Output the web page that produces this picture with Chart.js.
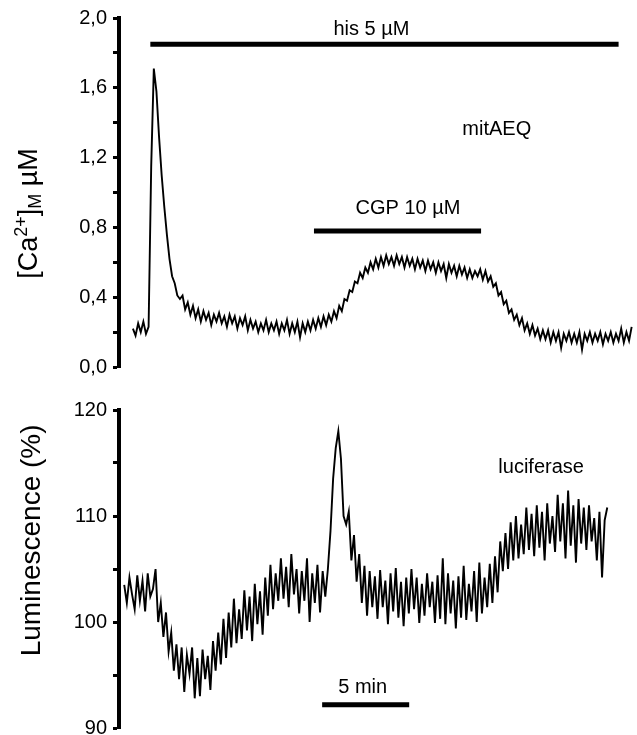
<!DOCTYPE html>
<html><head><meta charset="utf-8">
<script src="https://cdn.jsdelivr.net/npm/chart.js@4.4.1/dist/chart.umd.min.js"></script>
<style>
html,body{margin:0;padding:0;background:#fff;overflow:hidden;}
#wrap{position:relative;width:637px;height:735px;overflow:hidden;background:#fff;}
canvas{position:absolute;left:0;}
#c1{top:0;}
#c2{top:385px;}
</style></head><body>
<div id="wrap"><canvas id="c1" width="637" height="385"></canvas><canvas id="c2" width="637" height="365"></canvas></div>
<script>
const FONT = "'Liberation Sans', Arial, Helvetica, sans-serif";

// ---- time axis (minutes) ----
const xMax = 29.7;

// ---- top panel: mitochondrial Ca2+ (µM), sampled every caStep min from caStart ----
const caStart = 0.8, caStep = 0.15;
const caValues = [
0.22,0.18,0.25,0.20,0.26,0.19,0.23,1.15,1.71,1.58,
1.32,1.10,0.92,0.76,0.62,0.52,0.48,0.41,0.39,0.41,
0.33,0.37,0.30,0.35,0.28,0.33,0.26,0.32,0.27,0.31,
0.24,0.30,0.26,0.31,0.25,0.29,0.23,0.30,0.25,0.29,
0.22,0.28,0.24,0.29,0.21,0.27,0.22,0.26,0.20,0.25,
0.21,0.27,0.20,0.25,0.21,0.26,0.19,0.25,0.21,0.27,
0.19,0.25,0.20,0.26,0.17,0.25,0.20,0.26,0.21,0.27,
0.22,0.28,0.23,0.29,0.24,0.30,0.26,0.32,0.28,0.35,
0.32,0.39,0.38,0.44,0.43,0.49,0.48,0.54,0.51,0.57,
0.54,0.60,0.56,0.62,0.57,0.63,0.58,0.64,0.59,0.63,
0.58,0.64,0.59,0.63,0.57,0.63,0.58,0.62,0.56,0.62,
0.57,0.61,0.55,0.61,0.56,0.60,0.54,0.60,0.55,0.59,
0.51,0.59,0.54,0.58,0.52,0.58,0.53,0.57,0.51,0.56,
0.51,0.55,
0.52,0.56,0.50,0.55,0.49,0.52,0.46,0.48,0.41,0.43,
0.36,0.38,0.31,0.33,0.27,0.30,0.24,0.28,0.21,0.25,
0.19,0.24,0.18,0.22,0.16,0.21,0.16,0.21,0.14,0.20,
0.15,0.20,0.11,0.19,0.15,0.20,0.14,0.19,0.14,0.20,
0.10,0.19,0.15,0.20,0.14,0.19,0.15,0.20,0.13,0.19,
0.15,0.20,0.14,0.19,0.15,0.22,0.14,0.20,0.15,0.23
];
const caTicks = [0, 0.4, 0.8, 1.2, 1.6, 2.0];

// ---- bottom panel: luciferase luminescence (%) ----
const lucStart = 0.3, lucStep = 0.15;
const lucValues = [
103.5,101.8,104.2,102.6,101.2,104.4,102.0,103.9,101.0,104.6,102.4,103.1,105.0,
100.0,101.8,98.6,100.9,97.2,99.0,95.4,97.9,94.6,97.6,93.4,96.9,95.1,97.6,92.8,96.6,93.0,
97.4,94.6,96.8,93.6,98.2,95.4,99.0,96.0,100.3,96.6,100.9,97.6,102.2,98.0,101.2,98.4,103.0,99.2,102.4,98.2,
103.6,99.8,102.9,98.8,104.2,100.6,105.4,101.2,104.6,102.0,106.0,102.2,105.2,101.4,106.4,102.6,105.0,100.8,104.8,102.0,106.0,100.0,104.6,101.8,105.4,100.9,104.8,102.4,105.0,
108.6,113.5,116.4,118.0,115.4,110.0,109.2,110.4,105.8,108.2,
103.8,106.4,101.8,105.3,100.6,104.8,101.4,104.3,100.3,104.9,
101.4,103.9,99.8,104.6,101.0,105.1,100.4,103.8,99.6,104.2,
100.8,105.0,101.2,104.2,99.9,103.6,100.6,104.6,101.4,103.8,
99.9,104.4,100.3,106.0,99.8,104.6,100.8,103.9,99.4,104.3,
100.4,105.3,100.2,103.6,101.0,104.8,100.0,105.6,100.8,104.2,
101.4,105.5,101.8,106.2,102.8,
107.6,104.8,108.4,105.0,109.4,105.8,110.0,106.0,109.2,106.4,
110.8,106.8,110.2,106.2,111.0,107.0,110.4,105.8,111.2,107.4,
110.0,106.6,112.0,107.6,111.2,106.0,112.4,107.2,111.0,105.6,
111.6,107.4,110.8,106.8,111.0,107.6,109.8,105.8,110.4,104.2,
109.6,110.8
];
const lucTicks = [90, 100, 110, 120];

// ---- treatment / scale bars (x in min, y in axis units) ----
const hisBarX = [1.8, 28.7], hisBarY = 1.85;
const cgpBarX = [11.2, 20.8], cgpBarY = 0.78;
const scaleBarX = [11.67, 16.67], scaleBarY = 92.2;

function series(start, step, vals){ return vals.map((v,i)=>({x: start + i*step, y: v})); }
function bar(xs, y){ return [{x: xs[0], y: y}, {x: xs[1], y: y}]; }

const textPlugin = {
  id: 'texts',
  afterDatasetsDraw(chart, args, opts){
    const ctx = chart.ctx, xs = chart.scales.x, ys = chart.scales.y;
    ctx.save();
    ctx.fillStyle = '#000';
    ctx.textAlign = 'center';
    ctx.textBaseline = 'alphabetic';
    (opts.items || []).forEach(it => {
      ctx.font = it.size + 'px ' + FONT;
      ctx.fillText(it.text, xs.getPixelForValue(it.x), ys.getPixelForValue(it.y));
    });
    if (opts.title) {
      const parts = opts.title;
      const cx = opts.titleX, cy = ys.getPixelForValue(opts.titleY);
      let w = 0;
      parts.forEach(p => { ctx.font = p.size + 'px ' + FONT; p.w = ctx.measureText(p.t).width; w += p.w; });
      ctx.translate(cx, cy);
      ctx.rotate(-Math.PI / 2);
      ctx.textAlign = 'left';
      ctx.textBaseline = 'middle';
      let x = -w / 2;
      parts.forEach(p => {
        ctx.font = p.size + 'px ' + FONT;
        ctx.fillText(p.t, x, p.dy || 0);
        x += p.w;
      });
    }
    ctx.restore();
  }
};

function yAxis(min, max, step, labels, fmt){
  return {
    min: min, max: max,
    afterFit: s => { s.width = 119; },
    ticks: {
      stepSize: step,
      color: '#000',
      padding: 6,
      font: { family: FONT, size: 20 },
      callback: v => labels.some(l => Math.abs(l - v) < 1e-6) ? fmt(v) : ''
    },
    grid: { drawOnChartArea: false, drawTicks: true, tickLength: 6, tickWidth: 3, tickColor: '#000' },
    border: { display: true, color: '#000', width: 4 }
  };
}
const xAxis = { type: 'linear', min: 0, max: xMax, display: false };
const lineStyle = { borderColor: '#000', borderWidth: 1.9, pointRadius: 0, tension: 0, fill: false };
const barStyle = { borderColor: '#000', borderWidth: 5, pointRadius: 0, borderCapStyle: 'butt', fill: false };

new Chart(document.getElementById('c1'), {
  type: 'line',
  data: { datasets: [
    Object.assign({ label: 'mitAEQ', data: series(caStart, caStep, caValues) }, lineStyle),
    Object.assign({ label: 'his 5 µM', data: bar(hisBarX, hisBarY) }, barStyle),
    Object.assign({ label: 'CGP 10 µM', data: bar(cgpBarX, cgpBarY) }, barStyle)
  ]},
  options: {
    responsive: false, animation: false, devicePixelRatio: 1,
    layout: { padding: { top: 15, bottom: 18, left: 0, right: 1 } },
    scales: { x: xAxis, y: yAxis(0, 2, 0.2, caTicks, v => v.toFixed(1).replace('.', ',')) },
    plugins: {
      legend: { display: false }, tooltip: { enabled: false },
      texts: {
        items: [
          { text: 'his 5 µM', x: 14.5, y: 1.905, size: 20 },
          { text: 'mitAEQ', x: 21.7, y: 1.33, size: 20 },
          { text: 'CGP 10 µM', x: 16.6, y: 0.875, size: 20 }
        ],
        titleX: 30, titleY: 0.88,
        title: [
          { t: '[Ca', size: 27 },
          { t: '2+', size: 18, dy: -8 },
          { t: ']', size: 27 },
          { t: 'M', size: 18, dy: 6 },
          { t: ' µM', size: 27 }
        ]
      }
    }
  },
  plugins: [textPlugin]
});

new Chart(document.getElementById('c2'), {
  type: 'line',
  data: { datasets: [
    Object.assign({ label: 'luciferase', data: series(lucStart, lucStep, lucValues) }, lineStyle),
    Object.assign({ label: '5 min', data: bar(scaleBarX, scaleBarY) }, barStyle)
  ]},
  options: {
    responsive: false, animation: false, devicePixelRatio: 1,
    layout: { padding: { top: 25, bottom: 22, left: 0, right: 1 } },
    scales: { x: xAxis, y: yAxis(90, 120, 5, lucTicks, v => String(Math.round(v))) },
    plugins: {
      legend: { display: false }, tooltip: { enabled: false },
      texts: {
        items: [
          { text: 'luciferase', x: 24.25, y: 114.1, size: 20 },
          { text: '5 min', x: 14.0, y: 93.3, size: 20 }
        ],
        titleX: 32, titleY: 107.7,
        title: [ { t: 'Luminescence (%)', size: 28 } ]
      }
    }
  },
  plugins: [textPlugin]
});
</script>
</body></html>
